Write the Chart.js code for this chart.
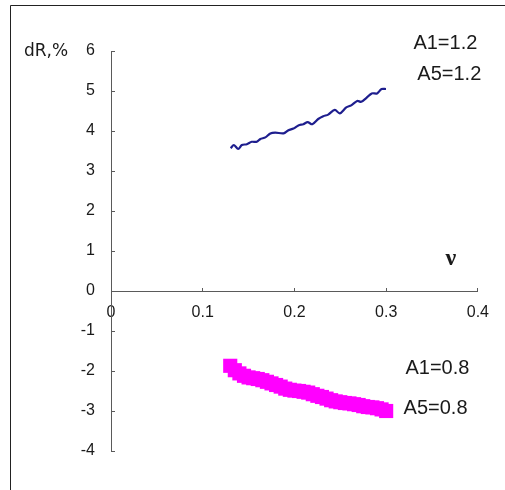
<!DOCTYPE html>
<html>
<head>
<meta charset="utf-8">
<script src="https://cdn.jsdelivr.net/npm/chart.js@4/dist/chart.umd.min.js"></script>
<style>
  html,body{margin:0;padding:0;background:#fff}
  #box{width:505px;height:490px}
</style>
</head>
<body>
<div id="box"><canvas id="chart" width="505" height="490"></canvas></div>
<script>
// A1 = A5 = 1.2 : dR grows with nu
const nuHigh=[0.1305,0.134,0.1387,0.1427,0.1481,0.1535,0.1589,0.1629,0.1683,0.1737,0.1791,0.1881,
  0.1935,0.1989,0.2043,0.2097,0.2144,0.2195,0.2259,0.2314,0.2368,0.244,0.2494,0.2565,0.2619,0.2684,
  0.2728,0.2782,0.2843,0.2901,0.2951,0.2998];
const drHigh=[3.57,3.65,3.55,3.65,3.67,3.73,3.73,3.80,3.84,3.94,3.96,3.94,
  4.02,4.06,4.14,4.17,4.22,4.17,4.30,4.37,4.41,4.53,4.44,4.59,4.64,4.75,
  4.73,4.82,4.94,4.94,5.05,5.05];

// A1 = A5 = 0.8 : dR falls with nu
const nuLow=[0.130,0.135,0.140,0.145,0.150,0.155,0.160,0.165,0.170,0.175,0.180,0.185,0.190,0.195,
  0.200,0.205,0.210,0.215,0.220,0.225,0.230,0.235,0.240,0.245,0.250,0.255,0.260,0.265,0.270,0.275,
  0.280,0.285,0.290,0.295,0.300];
const drLow=[-1.87,-1.98,-2.06,-2.12,-2.16,-2.18,-2.20,-2.23,-2.27,-2.31,-2.35,-2.39,-2.44,-2.47,
  -2.49,-2.50,-2.52,-2.54,-2.58,-2.62,-2.65,-2.69,-2.73,-2.76,-2.78,-2.80,-2.81,-2.83,-2.85,-2.88,
  -2.90,-2.91,-2.93,-2.96,-3.00];

const xTicks=[0,0.1,0.2,0.3,0.4];
const yTicks=[-4,-3,-2,-1,0,1,2,3,4,5,6];
const tagsHigh=['A1=1.2','A5=1.2'];
const tagsLow=['A1=0.8','A5=0.8'];

const AXIS='#5a5a5a', INK='#1a1a1a';
const SANS='Arial, "Liberation Sans", sans-serif';
const tickFont={family:SANS,size:16};

const pts=(xs,ys)=>xs.map((x,i)=>({x,y:ys[i]}));

// frame, axis caption, nu symbol and the A1/A5 notes
const extras={
  id:'extras',
  afterDraw(chart){
    const {ctx,scales:{x,y}}=chart;
    ctx.save();
    ctx.strokeStyle='#222';ctx.lineWidth=1;
    ctx.beginPath();
    ctx.moveTo(10.5,490);ctx.lineTo(10.5,5.5);ctx.lineTo(505,5.5);
    ctx.stroke();

    ctx.fillStyle=INK;
    ctx.textBaseline='middle';ctx.textAlign='left';
    ctx.font='17px "DejaVu Sans", sans-serif';
    ctx.fillText('dR,%',24,y.getPixelForValue(6)+1);

    ctx.font='20px '+SANS;
    ctx.fillText(tagsHigh[0],x.getPixelForValue(0.3297),y.getPixelForValue(6.2));
    ctx.fillText(tagsHigh[1],x.getPixelForValue(0.334),y.getPixelForValue(5.425));
    ctx.fillText(tagsLow[0],x.getPixelForValue(0.321),y.getPixelForValue(-1.925));
    ctx.fillText(tagsLow[1],x.getPixelForValue(0.319),y.getPixelForValue(-2.925));

    ctx.textAlign='center';
    ctx.font='bold 24px "Liberation Serif", "Times New Roman", serif';
    ctx.fillText('\u03bd',x.getPixelForValue(0.3705),y.getPixelForValue(0.8));
    ctx.restore();
  }
};

new Chart(document.getElementById('chart'),{
  type:'scatter',
  data:{datasets:[
    {data:pts(nuHigh,drHigh),showLine:true,borderColor:'#1e1e8e',borderWidth:2.2,
     pointRadius:0,tension:0.3,fill:false},
    {data:pts(nuLow,drLow),showLine:false,pointStyle:'rect',pointRadius:10,
     backgroundColor:'#ff00ff',borderColor:'#ff00ff',borderWidth:0}
  ]},
  options:{
    responsive:false,animation:false,devicePixelRatio:1,
    layout:{padding:{left:0,right:24,top:51,bottom:39}},
    plugins:{legend:{display:false},tooltip:{enabled:false}},
    scales:{
      x:{type:'linear',min:0,max:0.4,position:{y:0},
        afterBuildTicks:s=>{s.ticks=xTicks.map(v=>({value:v}));},
        ticks:{font:tickFont,color:INK,padding:16,maxRotation:0,
          callback:v=>String(v)},
        grid:{drawOnChartArea:false,drawTicks:true,tickLength:-4,color:AXIS},
        border:{color:AXIS,width:1}},
      y:{type:'linear',min:-4,max:6,position:'left',
        afterBuildTicks:s=>{s.ticks=yTicks.map(v=>({value:v}));},
        afterFit:s=>{s.width=111;},
        ticks:{font:tickFont,color:INK,padding:20,callback:v=>String(v)},
        grid:{drawOnChartArea:false,drawTicks:true,tickLength:-4,color:AXIS},
        border:{color:AXIS,width:1}}
    }
  },
  plugins:[extras]
});
</script>
</body>
</html>
